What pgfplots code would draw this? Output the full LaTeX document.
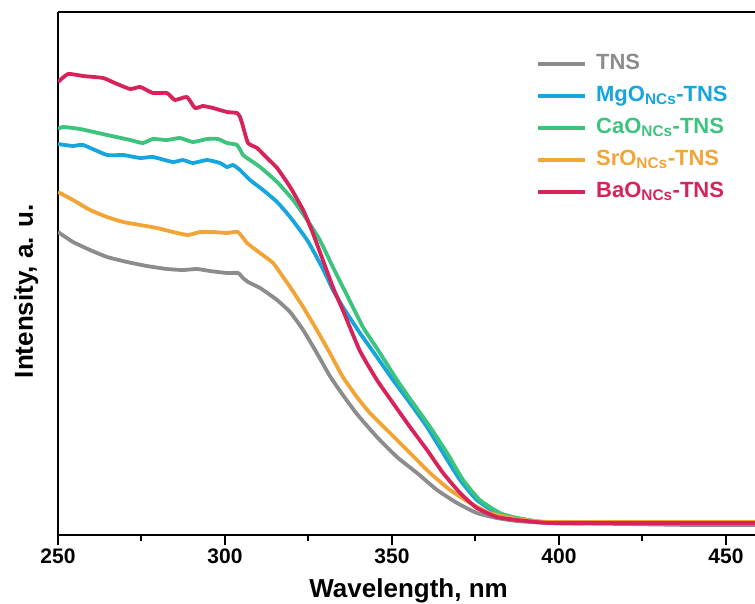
\documentclass[border=0pt]{standalone}
\usepackage{fontspec}
\setmainfont{Liberation Sans}
\usepackage{pgfplots}
\pgfplotsset{compat=1.18}
\definecolor{ctns}{RGB}{140,140,140}
\definecolor{cmgo}{RGB}{22,165,220}
\definecolor{ccao}{RGB}{60,195,125}
\definecolor{csro}{RGB}{242,165,55}
\definecolor{cbao}{RGB}{214,36,90}
\begin{document}
\bfseries
\begin{tikzpicture}
\begin{axis}[
  width=697pt, height=523pt, scale only axis,
  xmin=250, xmax=458.7, ymin=0, ymax=523,
  axis x line*=box, axis y line*=left,
  axis line style={line width=2.5pt, -, black},
  x axis line style={-}, y axis line style={-},
  xtick={250,300,350,400,450}, minor x tick num=1,
  ytick=\empty,
  xtick pos=left, tick align=outside,
  major tick length=10pt, minor tick length=6pt,
  every tick/.style={black, line width=2pt},
  /pgf/number format/assume math mode=true,
  /pgf/number format/set thousands separator={},
  xticklabel style={font=\fontsize{21}{25}\selectfont\bfseries},
  xlabel={Wavelength, nm},
  ylabel={Intensity, a. u.},
  xlabel style={at={(axis description cs:0.503,-0.1186)}, anchor=base, font=\fontsize{26}{30}\selectfont\bfseries},
  ylabel style={at={(axis description cs:-0.0359,0.466)}, anchor=base, font=\fontsize{26}{30}\selectfont\bfseries},
  legend style={draw=none, fill=none, at={(axis description cs:0.686,0.9235)}, anchor=north west,
    inner sep=0pt, outer sep=0pt, row sep=8pt,
    font=\fontsize{22}{26}\selectfont\bfseries,
    nodes={inner sep=1pt, text height=16pt, text depth=6pt},
    /tikz/every odd column/.style={column sep=8pt}},
  legend cell align=left,
  legend image code/.code={\draw[#1, line width=4pt] (0pt,0pt) -- (47pt,0pt);},
  every axis plot/.append style={line width=3.8pt, line join=round, smooth, tension=0.3},
]
\addplot[ctns] coordinates {(250,303)(254.5,293)(259.6,285)(264.7,278)(270.7,273)(276.6,269)(282.6,266)(287.4,265)(291.6,266)(295.5,264)(300.6,262)(303.9,262)(305.4,257)(306.9,253)(310.5,247)(314.4,238)(315.6,235)(319.5,223)(323.4,205)(327.5,182)(331.4,159)(335.3,140)(339.5,121)(345.5,98)(351.5,78)(357.5,62)(363.5,45)(369.5,32)(375.4,22)(381.4,17)(387.4,14)(397.3,12)(420,11)(440,10)(459,10)};
\addlegendentry{\textcolor{ctns}{TNS}}
\addplot[cmgo] coordinates {(250,391)(254.5,389)(257.5,390)(264.7,380)(269.5,380)(274.6,377)(278.4,378)(284.4,373)(287.4,375)(290.4,372)(294.6,375)(298.5,372)(300.6,368)(302.4,370)(304.5,365)(307.5,355)(311.4,345)(315.6,333)(319.5,318)(324.6,295)(328.4,272)(330.5,258)(332.3,245)(335.3,228)(340.4,202)(345.5,178)(350.3,155)(355.4,132)(360.5,108)(365.3,82)(370.4,55)(375.4,35)(381.4,22)(387.4,17)(397.3,12)(420,12)(459,12)};
\addlegendentry{\textcolor{cmgo}{MgO\textsubscript{NCs}-TNS}}
\addplot[ccao] coordinates {(250,406)(251.5,408)(256.6,406)(264.7,400)(271.6,395)(275.4,392)(278.4,396)(282.6,395)(286.5,397)(290.4,393)(294.6,396)(297.9,396)(300.6,392)(303.6,390)(305.4,380)(306.6,377)(310.5,368)(315.6,353)(320.4,335)(324.6,315)(328.4,295)(332.3,268)(336.5,240)(341.3,208)(346.4,182)(351.5,155)(356.3,132)(361.4,108)(366.5,82)(371.3,55)(376.3,35)(382.3,22)(387.4,17)(397.3,12)(420,12)(459,12)};
\addlegendentry{\textcolor{ccao}{CaO\textsubscript{NCs}-TNS}}
\addplot[csro] coordinates {(250,343)(254.5,335)(259.6,325)(264.7,318)(269.5,313)(274.6,310)(279.6,307)(284.4,303)(288.9,300)(292.5,303)(296.4,303)(300.6,302)(303.9,303)(306.6,292)(310.5,282)(314.4,272)(317.4,258)(319.5,248)(323.4,228)(327.5,205)(331.4,182)(335.3,158)(339.5,138)(343.4,122)(349.4,102)(355.4,82)(361.4,62)(367.4,45)(373.4,32)(379.3,22)(387.4,16)(397.3,13)(420,13)(459,13)};
\addlegendentry{\textcolor{csro}{SrO\textsubscript{NCs}-TNS}}
\addplot[cbao] coordinates {(250,453)(253,461)(257.5,459)(263.5,457)(267,452)(271.6,446)(274.6,448)(278.4,442)(282.6,442)(285,435)(288.6,438)(291,427)(293.4,429)(296.4,427)(300.6,423)(303.6,422)(304.5,418)(305.1,412)(306.9,392)(309.6,387)(312.6,377)(315.6,367)(319.5,348)(323.4,325)(326.3,302)(329.3,275)(332.3,248)(335.9,220)(340.4,184)(345.5,155)(350.3,132)(355.4,108)(360.5,85)(365.3,62)(370.4,42)(375.4,27)(381.4,18)(387.4,15)(397.3,12)(420,12)(459,12)};
\addlegendentry{\textcolor{cbao}{BaO\textsubscript{NCs}-TNS}}
\end{axis}
\pgfresetboundingbox
\useasboundingbox (-58pt,-68pt) rectangle (697pt,535pt);
\end{tikzpicture}
\end{document}
